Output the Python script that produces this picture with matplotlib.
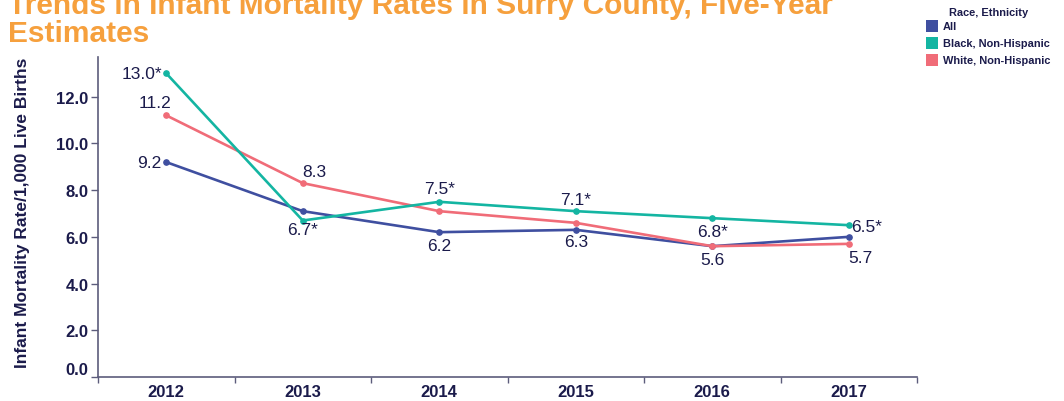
import matplotlib
matplotlib.use("Agg")
import matplotlib.pyplot as plt
from matplotlib.patches import Rectangle

plt.rcParams['font.family'] = ['Liberation Sans', 'DejaVu Sans']

years = ["2012", "2013", "2014", "2015", "2016", "2017"]
series_names = ["All", "Black, Non-Hispanic", "White, Non-Hispanic"]
all_vals = [9.2, 7.1, 6.2, 6.3, 5.6, 6.0]
black_vals = [13.0, 6.7, 7.5, 7.1, 6.8, 6.5]
white_vals = [11.2, 8.3, 7.1, 6.6, 5.6, 5.7]
all_labels = ["9.2", None, "6.2", "6.3", "5.6", None]
black_labels = ["13.0*", "6.7*", "7.5*", "7.1*", "6.8*", "6.5*"]
white_labels = ["11.2", "8.3", None, None, None, "5.7"]
yticks = [0, 2, 4, 6, 8, 10, 12]

colors = ["#3F4FA0", "#14B5A2", "#F06C78"]
text_col = "#1B1B4B"
axis_col = "#5C5C7C"

# label offsets (pixels): (dx, dy, ha, va)
all_off = [(-5, 0, 'right', 'center'), None, (0, -13, 'center', 'center'),
           (0, -12, 'center', 'center'), (0, -13, 'center', 'center'), None]
black_off = [(-4, 0, 'right', 'center'), (0, -9, 'center', 'center'),
             (0, 13, 'center', 'center'), (0, 12, 'center', 'center'),
             (0, -13, 'center', 'center'), (2, -1, 'left', 'center')]
white_off = [(-11, 13, 'center', 'center'), (12, 12, 'center', 'center'), None, None, None,
             (12, -14, 'center', 'center')]

fig = plt.figure(figsize=(10.64, 4.02), dpi=100)
ax = fig.add_axes([98/1064, 1-378/402, (917-98)/1064, (378-58)/402])

x = list(range(len(years)))
for vals, col in [(all_vals, colors[0]), (white_vals, colors[2]), (black_vals, colors[1])]:
    ax.plot(x, vals, color=col, lw=1.9, marker='o', ms=3.8, zorder=3)
for vals, labs, offs in [(all_vals, all_labels, all_off),
                         (white_vals, white_labels, white_off),
                         (black_vals, black_labels, black_off)]:
    for i, (v, l, o) in enumerate(zip(vals, labs, offs)):
        if l is None:
            continue
        dx, dy, ha, va = o
        ax.annotate(l, (i, v), xytext=(dx*0.72, dy*0.72), textcoords='offset points',
                    ha=ha, va=va, fontsize=12.5, color=text_col, zorder=4)

ax.set_xlim(-0.5, len(years)-0.5)
ax.set_ylim(0, 13.7)
ax.set_xticks(x)
ax.set_xticklabels(years, fontsize=12, fontweight='bold', color=text_col)
ax.set_xticks([i-0.5 for i in range(len(years)+1)], minor=True)
ax.tick_params(axis='x', which='major', length=0, pad=5)
ax.tick_params(axis='x', which='minor', length=4, color=axis_col, width=1)
ax.set_yticks(yticks)
ax.set_yticklabels([f"{t:.1f}" for t in yticks], fontsize=12, fontweight='bold', color=text_col)
ax.tick_params(axis='y', length=5, color=axis_col, width=1, pad=2)
for lab in ax.get_yticklabels():
    if lab.get_text() == "0.0":
        lab.set_va('bottom')
for s in ['top', 'right']:
    ax.spines[s].set_visible(False)
for s in ['left', 'bottom']:
    ax.spines[s].set_color(axis_col)
    ax.spines[s].set_linewidth(1.2)
ax.set_ylabel("Infant Mortality Rate/1,000 Live Births", fontsize=12.5,
              fontweight='bold', color=text_col)
ax.yaxis.set_label_coords((30-98)/819, 0.515)

fig.text(8/1064, 1-42.5/402, "Trends in Infant Mortality Rates in Surry County, Five-Year\nEstimates",
         fontsize=21.5, fontweight='bold', color="#F6A03D", ha='left', va='baseline',
         linespacing=1.0)

# legend
fig.text(989/1064, 1-13/402, "Race, Ethnicity", fontsize=7.9, fontweight='bold',
         color=text_col, ha='center', va='center')
rows = [27, 44, 61]
for name, col, yc in zip(series_names, colors, rows):
    fig.add_artist(Rectangle((926/1064, 1-(yc+6)/402), 12/1064, 12/402,
                             transform=fig.transFigure, color=col, lw=0))
    fig.text(943/1064, 1-yc/402, name, fontsize=7.9, fontweight='bold',
             color=text_col, ha='left', va='center')

fig.savefig("out.png", dpi=100)
